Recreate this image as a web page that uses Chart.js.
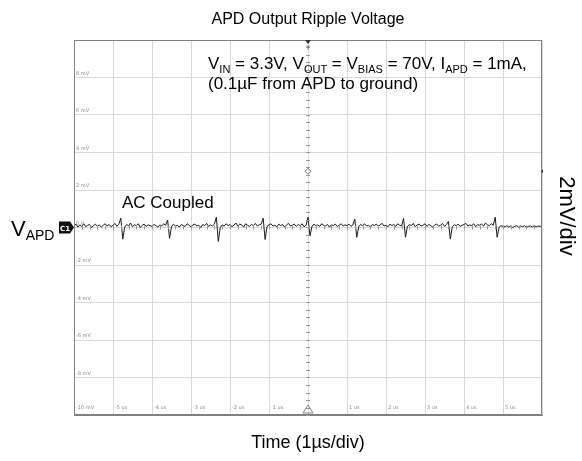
<!DOCTYPE html>
<html>
<head>
<meta charset="utf-8">
<script src="https://cdn.jsdelivr.net/npm/chart.js@4.4.1/dist/chart.umd.min.js"></script>
<style>
    body { margin: 0; background: #fff; }
    #wrap { width: 582px; height: 461px; position: relative; }
</style>
</head>
<body>
<div id="wrap"><canvas id="scope"></canvas></div>
<script>
// scope capture, 1us/div, 2mV/div
const timeStartUs = -6;
const timeStepUs = 0.05;
const rippleMv = [
    0.10, 0.18, 0.02, 0.14, 0.06, 0.20, 0.04, 0.12, 0.16, 0.00, 0.10, 0.18, 0.06, 0.14, 0.02, 0.12, 0.20, 0.08, 0.16, 0.04,
    0.12, 0.22, 0.06, 0.18, 0.50, -0.62, 0.02, 0.16, 0.08, 0.24, 0.04, 0.14, 0.10, 0.20, 0.00, 0.12, 0.18, 0.06, 0.14, 0.10,
    0.06, 0.16, 0.10, 0.02, 0.14, 0.08, 0.20, 0.12, 0.40, -0.58, 0.04, 0.18, 0.08, 0.12, 0.02, 0.16, 0.10, 0.06, 0.20, 0.12,
    0.04, 0.14, 0.18, 0.08, 0.12, 0.00, 0.16, 0.10, 0.22, 0.06, 0.14, 0.08, 0.18, 0.55, -0.74, 0.00, 0.14, 0.08, 0.20, 0.10,
    0.16, 0.04, 0.12, 0.24, 0.08, 0.18, 0.14, 0.02, 0.20, 0.12, 0.06, 0.16, 0.10, 0.22, 0.08, 0.14, 0.18, 0.50, -0.64, 0.06,
    0.14, 0.20, 0.08, 0.12, 0.04, 0.18, 0.10, 0.16, 0.02, 0.14, 0.22, 0.08, 0.12, 0.18, 0.06, 0.16, 0.10, 0.20, 0.04, 0.12,
    0.55, -0.46, 0.04, 0.18, 0.10, 0.14, 0.06, 0.20, 0.12, 0.08, 0.16, 0.02, 0.14, 0.10, 0.18, 0.06, 0.12, 0.20, 0.08, 0.14,
    0.10, 0.18, 0.06, 0.14, 0.45, -0.52, 0.04, 0.16, 0.10, 0.20, 0.08, 0.12, 0.02, 0.16, 0.10, 0.18, 0.06, 0.14, 0.22, 0.08,
    0.12, 0.04, 0.18, 0.10, 0.16, 0.06, 0.20, 0.12, 0.08, 0.48, -0.52, 0.06, 0.16, 0.10, 0.22, 0.04, 0.14, 0.18, 0.08, 0.12,
    0.20, 0.06, 0.16, 0.10, 0.02, 0.14, 0.18, 0.08, 0.12, 0.22, 0.06, 0.16, 0.32, -0.62, 0.04, 0.14, 0.10, 0.18, 0.06, 0.12,
    0.16, 0.22, 0.08, 0.14, 0.10, 0.20, 0.04, 0.16, 0.12, 0.18, 0.08, 0.24, 0.14, 0.10, 0.20, 0.12, 0.55, -0.52, 0.02, 0.10,
    0.06, 0.04, 0.10, 0.02, 0.08, 0.00, 0.06, 0.10, 0.02, 0.08, 0.04, 0.10, 0.00, 0.06, 0.08, 0.02, 0.10, 0.04, 0.08, 0.06,
    0.08
];
const timeTicks = [-6, -5, -4, -3, -2, -1, 0, 1, 2, 3, 4, 5];
const timeTickLabels = ['-10 mV', '-5 us', '-4 us', '-3 us', '-2 us', '-1 us', '', '1 us', '2 us', '3 us', '4 us', '5 us'];
const voltTicks = [8, 6, 4, 2, 0, -2, -4, -6, -8];
const voltTickLabels = ['8 mV', '6 mV', '4 mV', '2 mV', '0 V', '-2 mV', '-4 mV', '-6 mV', '-8 mV'];
const triggerLevelMv = 3;

const points = rippleMv.map((v, i) => ({ x: timeStartUs + i * timeStepUs, y: v }));

function drawSubText(ctx, x, y, parts, big, small) {
    // parts: [text, isSub]
    parts.forEach(p => {
        ctx.font = (p[1] ? small : big) + 'px "Liberation Sans", Arial, sans-serif';
        ctx.fillText(p[0], x, p[1] ? y + 4 : y);
        x += ctx.measureText(p[0]).width;
    });
}

const scopeDecor = {
    id: 'scopeDecor',
    afterDraw(chart) {
        const ctx = chart.ctx;
        const area = chart.chartArea;
        const xs = chart.scales.x;
        const ys = chart.scales.y;
        const cx = xs.getPixelForValue(0);
        const cy = ys.getPixelForValue(0);
        ctx.save();

        // frame
        ctx.strokeStyle = '#808080';
        ctx.lineWidth = 1;
        ctx.strokeRect(area.left + 0.5, area.top + 0.5, area.right - area.left - 1, area.bottom - area.top - 1);

        // minor ticks on center lines
        ctx.strokeStyle = '#999';
        ctx.beginPath();
        for (let v = -10; v <= 10; v += 0.4) {
            const py = Math.round(ys.getPixelForValue(v)) + 0.5;
            ctx.moveTo(cx - 2, py); ctx.lineTo(cx + 2, py);
        }
        for (let t = -6; t <= 6; t += 0.2) {
            const px = Math.round(xs.getPixelForValue(t)) + 0.5;
            ctx.moveTo(px, cy - 2); ctx.lineTo(px, cy + 2);
        }
        ctx.stroke();

        // tiny scope labels inside the grid
        ctx.fillStyle = '#8a8a8a';
        ctx.font = '5px "DejaVu Sans", sans-serif';
        ctx.textBaseline = 'alphabetic';
        ctx.textAlign = 'left';
        voltTicks.forEach((v, i) => {
            ctx.fillText(voltTickLabels[i], area.left + 2, ys.getPixelForValue(v) - 3);
        });
        timeTicks.forEach((t, i) => {
            ctx.fillText(timeTickLabels[i], xs.getPixelForValue(t) + 2, area.bottom - 6);
        });

        // trigger markers
        ctx.fillStyle = '#333';
        ctx.beginPath();
        ctx.moveTo(cx - 3, area.top); ctx.lineTo(cx + 3, area.top); ctx.lineTo(cx, area.top + 4);
        ctx.closePath(); ctx.fill();
        ctx.font = '6px "DejaVu Sans", sans-serif';
        ctx.textAlign = 'center';
        ctx.fillText('T', cx, area.top + 10);

        const ty = ys.getPixelForValue(triggerLevelMv);
        ctx.strokeStyle = '#777';
        ctx.beginPath();
        ctx.moveTo(cx, ty - 3); ctx.lineTo(cx + 3, ty); ctx.lineTo(cx, ty + 3); ctx.lineTo(cx - 3, ty);
        ctx.closePath(); ctx.stroke();
        ctx.fillStyle = '#333';
        ctx.beginPath();
        ctx.moveTo(area.right + 1, ty - 2); ctx.lineTo(area.right - 1, ty); ctx.lineTo(area.right + 1, ty + 2);
        ctx.closePath(); ctx.fill();

        ctx.strokeStyle = '#888';
        ctx.beginPath();
        ctx.moveTo(cx - 5, area.bottom - 2); ctx.lineTo(cx + 5, area.bottom - 2); ctx.lineTo(cx, area.bottom - 10);
        ctx.closePath(); ctx.stroke();

        // channel marker
        ctx.fillStyle = '#111';
        ctx.beginPath();
        ctx.moveTo(area.left - 15, cy - 6); ctx.lineTo(area.left - 4, cy - 6); ctx.lineTo(area.left, cy);
        ctx.lineTo(area.left - 4, cy + 6); ctx.lineTo(area.left - 15, cy + 6);
        ctx.closePath(); ctx.fill();
        ctx.fillStyle = '#fff';
        ctx.font = 'bold 7px "DejaVu Sans", sans-serif';
        ctx.fillText('C1', area.left - 9, cy + 3);

        // texts
        ctx.fillStyle = '#000';
        ctx.textAlign = 'center';
        ctx.font = '16px "Liberation Sans", Arial, sans-serif';
        ctx.fillText('APD Output Ripple Voltage', cx, 24);
        ctx.font = '18px "Liberation Sans", Arial, sans-serif';
        ctx.fillText('Time (1\u00b5s/div)', cx, 448);

        ctx.font = '17px "Liberation Sans", Arial, sans-serif';
        ctx.textAlign = 'left';
        ctx.fillText('AC Coupled', 122, 208);
        drawSubText(ctx, 208, 69, [
            ['V', 0], ['IN', 1], [' = 3.3V, V', 0], ['OUT', 1], [' = V', 0], ['BIAS', 1],
            [' = 70V, I', 0], ['APD', 1], [' = 1mA,', 0]
        ], 17, 11);
        ctx.font = '17px "Liberation Sans", Arial, sans-serif';
        ctx.fillText('(0.1\u00b5F from APD to ground)', 208, 89);
        drawSubText(ctx, 11, 236, [['V', 0], ['APD', 1]], 22, 14);

        ctx.translate(566, 216);
        ctx.rotate(Math.PI / 2);
        ctx.textAlign = 'center';
        ctx.textBaseline = 'middle';
        ctx.font = '22px "Liberation Sans", Arial, sans-serif';
        ctx.fillText('2mV/div', 0, 0);
        ctx.restore();
    }
};

new Chart(document.getElementById('scope'), {
    type: 'line',
    data: {
        datasets: [{
            label: 'VAPD',
            data: points,
            borderColor: '#1a1a1a',
            borderWidth: 1,
            pointRadius: 0,
            tension: 0
        }]
    },
    options: {
        responsive: true,
        maintainAspectRatio: false,
        animation: false,
        layout: { padding: { left: 74, right: 40, top: 40, bottom: 46 } },
        plugins: {
            legend: { display: false },
            tooltip: { enabled: false }
        },
        scales: {
            x: {
                type: 'linear',
                min: -6,
                max: 6,
                ticks: { display: false, stepSize: 1 },
                grid: { color: '#d9d9d9', drawTicks: false },
                border: { color: '#808080' }
            },
            y: {
                min: -10,
                max: 10,
                ticks: { display: false, stepSize: 2 },
                grid: { color: '#d9d9d9', drawTicks: false },
                border: { color: '#808080' }
            }
        }
    },
    plugins: [scopeDecor]
});
</script>
</body>
</html>
